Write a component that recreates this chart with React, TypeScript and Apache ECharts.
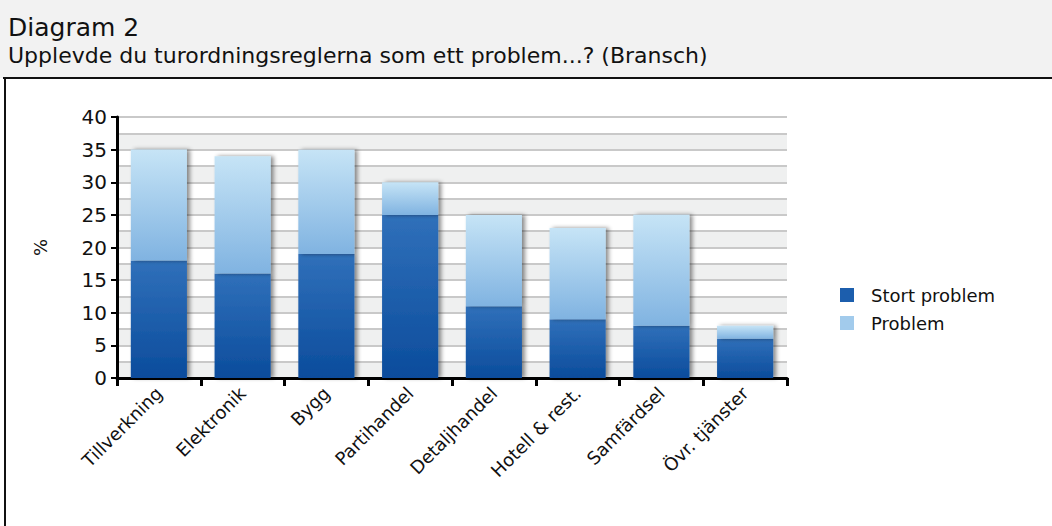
import React, { useEffect, useRef } from "react";
import * as echarts from "echarts";

const categories = ["Tillverkning", "Elektronik", "Bygg", "Partihandel", "Detaljhandel", "Hotell & rest.", "Samfärdsel", "Övr. tjänster"];
const stortProblem = [18, 16, 19, 25, 11, 9, 8, 6];
const problem = [17, 18, 16, 5, 14, 14, 17, 2];
const seriesNames = ["Stort problem", "Problem"];
const titleText = "Diagram 2";
const subtitleText = "Upplevde du turordningsreglerna som ett problem...? (Bransch)";

const FONT = "DejaVu Sans";

export default function App() {
  const ref = useRef<HTMLDivElement>(null);
  useEffect(() => {
    document.body.style.margin = "0";
    const chart = echarts.init(ref.current!, null, { renderer: "svg" });
    const darkGrad = new echarts.graphic.LinearGradient(0, 0, 0, 1, [
      { offset: 0, color: "#3070ba" },
      { offset: 1, color: "#0b4c9c" },
    ]);
    const lightGrad = new echarts.graphic.LinearGradient(0, 0, 0, 1, [
      { offset: 0, color: "#c6e4f6" },
      { offset: 1, color: "#80b3e1" },
    ]);
    const shadow = { shadowColor: "rgba(0,0,0,0.45)", shadowBlur: 4, shadowOffsetX: 3, shadowOffsetY: 0 };
    chart.setOption({
      animation: false,
      backgroundColor: "#ffffff",
      textStyle: { fontFamily: FONT },
      graphic: [
        { type: "rect", shape: { x: 0, y: 0, width: 1052, height: 78 }, style: { fill: "#f2f2f2" }, z: -10 },
        { type: "line", shape: { x1: 3, y1: 78, x2: 1052, y2: 78 }, style: { stroke: "#111", lineWidth: 2 }, z: 10 },
        { type: "line", shape: { x1: 5, y1: 78, x2: 5, y2: 526 }, style: { stroke: "#111", lineWidth: 2 }, z: 10 },
        { type: "text", x: 8, y: 15, style: { text: titleText, font: `25px "${FONT}"`, fill: "#111" } },
        { type: "text", x: 8, y: 44, style: { text: subtitleText, font: `22px "${FONT}"`, fill: "#111" } },
      ],
      legend: {
        orient: "vertical",
        left: 835,
        top: 281,
        itemWidth: 14,
        itemHeight: 14,
        itemGap: 10,
        icon: "rect",
        textStyle: { fontSize: 18, color: "#111", fontFamily: FONT, padding: [0, 0, 0, 12] },
        data: [
          { name: seriesNames[0], itemStyle: { color: "#1c5ead" } },
          { name: seriesNames[1], itemStyle: { color: "#a2cbec" } },
        ],
      },
      grid: { left: 117, right: 265, top: 117, bottom: 148 },
      xAxis: {
        type: "category",
        data: categories,
        axisLine: { lineStyle: { color: "#000", width: 3 } },
        axisTick: { show: true, length: 8, lineStyle: { color: "#000", width: 3 } },
        axisLabel: { rotate: 45, fontSize: 18, color: "#111", fontFamily: FONT, margin: 12 },
      },
      yAxis: [
        {
          type: "value",
          min: 0,
          max: 40,
          interval: 2.5,
          axisLine: { show: false },
          axisTick: { show: false },
          axisLabel: { show: false },
          splitLine: { show: true, lineStyle: { color: "#c9c9c9", width: 2 } },
          splitArea: { show: true, areaStyle: { color: ["#eff0f0", "#ffffff"] } },
        },
        {
          type: "value",
          min: 0,
          max: 40,
          interval: 5,
          position: "left",
          name: "%",
          nameLocation: "middle",
          nameRotate: 90,
          nameGap: 68,
          nameTextStyle: { fontSize: 18, color: "#111", fontFamily: FONT },
          axisLine: { show: true, lineStyle: { color: "#000", width: 3 } },
          axisTick: { show: true, length: 6, lineStyle: { color: "#000", width: 2 } },
          axisLabel: { fontSize: 20, color: "#111", fontFamily: FONT, margin: 10 },
          splitLine: { show: false },
        },
      ],
      series: [
        {
          name: seriesNames[0],
          type: "bar",
          stack: "total",
          yAxisIndex: 0,
          barWidth: "67%",
          data: stortProblem,
          itemStyle: { color: darkGrad, ...shadow },
        },
        {
          name: seriesNames[1],
          type: "bar",
          stack: "total",
          yAxisIndex: 0,
          barWidth: "67%",
          data: problem,
          itemStyle: { color: lightGrad, ...shadow },
        },
      ],
    });
    return () => chart.dispose();
  }, []);
  return <div ref={ref} style={{ width: 1052, height: 526 }} />;
}
